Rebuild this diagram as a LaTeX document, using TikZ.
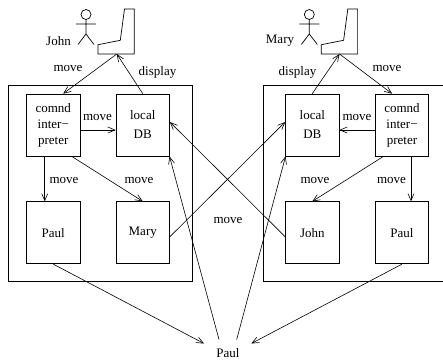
\documentclass[tikz,border=0pt]{standalone}
\usepackage{fontspec}
\setmainfont{Liberation Serif}
\usetikzlibrary{arrows.meta}
\tikzset{
  x=1pt,y=-1pt,
  boxn/.style={draw,line width=0.75pt,minimum width=53.5pt,minimum height=62pt,inner sep=0pt,align=center,font=\fontsize{13}{16}\selectfont},
  outerbox/.style={draw,line width=0.85pt,inner sep=0pt},
  lbl/.style={inner sep=0pt,font=\fontsize{13}{16}\selectfont},
  conn/.style={line width=0.6pt,-{Straight Barb[length=7pt,width=6pt,line width=0.6pt]}},
  plainline/.style={line width=0.7pt,line join=miter},
}
\newcommand{\stickman}[2]{%
  \draw[plainline] (#1,#2) circle (5);
  \draw[plainline] (#1,#2+5) -- (#1,#2+19.5) (#1-10,#2+9.5) -- (#1+10,#2+9.5)
    (#1-8,#2+30) -- (#1,#2+19.5) -- (#1+8,#2+30);
}
\newcommand{\seat}[1]{%
  \draw[plainline] (#1+26.5,9) -- (#1+36.3,9) -- (#1+36.3,54) -- (#1,54) -- (#1,44.7) -- (#1+22.3,40.3) -- cycle;
}
\begin{document}
\begin{tikzpicture}
\useasboundingbox (0,0) rectangle (443,360);
% outer frames
\node[outerbox,minimum width=183.5pt,minimum height=196.5pt] (outerL) at (100.25,183.25) {};
\node[outerbox,minimum width=187pt,minimum height=196.5pt] (outerR) at (356.8,183.25) {};
% left boxes
\node[boxn] (cmdL) at (53.25,125) {comnd\\inter\textminus\\preter};
\node[boxn] (dbL) at (142.75,125) {local\\[3pt]DB};
\node[boxn] (paulL) at (53.25,232.75) {Paul};
\node[boxn] (maryL) at (142.75,232.75) {Mary};
% right boxes
\node[boxn] (dbR) at (312.3,125) {local\\[3pt]DB};
\node[boxn] (cmdR) at (402,125) {comnd\\inter\textminus\\preter};
\node[boxn] (johnR) at (312.3,232.75) {John};
\node[boxn] (paulR) at (402,232.75) {Paul};
% users
\stickman{86}{14.5}
\seat{98}
\stickman{309.3}{14.5}
\seat{321.3}
\coordinate (seatL) at (116.8,54);
\coordinate (seatR) at (339.5,54);
\node[lbl] (nameJ) at (58.5,41) {John};
\node[lbl] (nameM) at (280,41) {Mary};
\node[lbl] (paulB) at (228,353) {Paul};
\coordinate (paulBL) at (204,343.5);
\coordinate (paulBR) at (251.3,343.5);
\coordinate (paulBtl) at (219,339.5);
\coordinate (paulBtr) at (236.7,339.5);
% connectors
\draw[conn] (seatL) -- ([xshift=10pt]cmdL.north);
\draw[conn] (dbL.north) -- (seatL);
\draw[conn] (dbR.north) -- (seatR);
\draw[conn] (seatR) -- ([xshift=-10pt]cmdR.north);
\draw[conn] ([yshift=-5pt]cmdL.east) -- ([yshift=-5pt]dbL.west);
\draw[conn] ([yshift=-5pt]cmdR.west) -- ([yshift=-5pt]dbR.east);
\draw[conn] ([xshift=-8.5pt]cmdL.south) -- ([xshift=-8.5pt]paulL.north);
\draw[conn] ([xshift=18.5pt]cmdL.south) -- (maryL.north);
\draw[conn] ([xshift=-18.5pt]cmdR.south) -- (johnR.north);
\draw[conn] ([xshift=9pt]cmdR.south) -- ([xshift=9pt]paulR.north);
\draw[conn] ([yshift=-4pt]maryL.east) -- ([yshift=3pt]dbR.west);
\draw[conn] ([yshift=-4pt]johnR.west) -- ([yshift=3pt]dbL.east);
\draw[conn] (paulBtl) -- ([xshift=26.75pt]dbL.south);
\draw[conn] (paulBtr) -- ([xshift=-26.75pt]dbR.south);
\draw[conn] (paulL.south) -- (paulBL);
\draw[conn] (paulR.south) -- (paulBR);
% labels
\node[lbl] at (68,68) {move};
\node[lbl] at (157.5,72) {display};
\node[lbl] at (97.5,117) {move};
\node[lbl] at (64,180.5) {move};
\node[lbl] at (139,180.5) {move};
\node[lbl] at (228,220) {move};
\node[lbl] at (297.5,72) {display};
\node[lbl] at (387,68) {move};
\node[lbl] at (357,117) {move};
\node[lbl] at (315,180.5) {move};
\node[lbl] at (391.5,180.5) {move};
\end{tikzpicture}
\end{document}
